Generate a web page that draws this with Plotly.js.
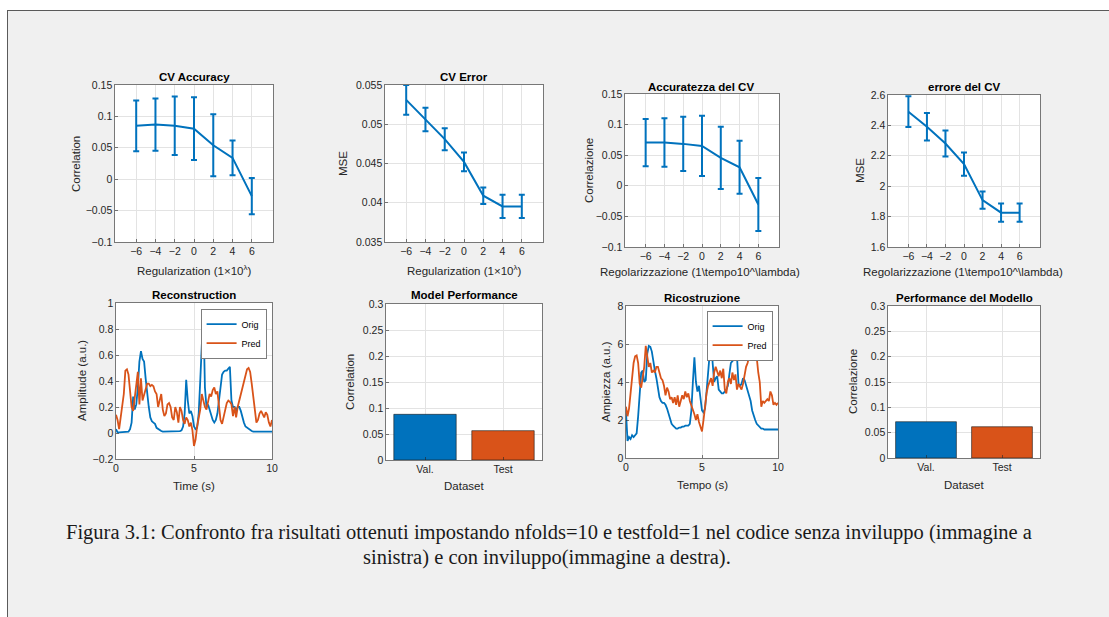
<!DOCTYPE html>
<html>
<head>
<meta charset="utf-8">
<script src="https://cdn.plot.ly/plotly-3.0.1.min.js"></script>
<style>
  html, body { margin:0; padding:0; background:#ffffff; width:1109px; height:617px; overflow:hidden; }
  #frame { position:absolute; left:7px; top:10px; width:1200px; height:700px; background:#f0f0f0;
           border-left:1px solid #5a5a5a; border-top:1px solid #5a5a5a; }
  #chart { position:absolute; left:0; top:0; width:1109px; height:617px; }
</style>
</head>
<body>
<div id="frame"></div>
<div id="chart"></div>
<script>
// ---------------- DATA ----------------
const lambdaExp = [-6, -4, -2, 0, 2, 4, 6];

// Left figure (senza inviluppo)
const cvAccMean = [0.085, 0.087, 0.085, 0.0805, 0.054, 0.034, -0.027];
const cvAccErr  = [0.0405, 0.0416, 0.0465, 0.050, 0.0495, 0.0276, 0.029];
const cvErrMean = [0.0531, 0.0506, 0.0481, 0.0452, 0.0409, 0.03953, 0.03953];
const cvErrErr  = [0.0019, 0.0015, 0.0014, 0.0012, 0.00105, 0.00148, 0.00148];

// Right figure (con inviluppo)
const cvAccMeanEnv = [0.0707, 0.0707, 0.0685, 0.0652, 0.0455, 0.0302, -0.0305];
const cvAccErrEnv  = [0.0386, 0.0397, 0.0443, 0.0493, 0.0509, 0.0433, 0.0432];
const cvErrMeanEnv = [2.490, 2.391, 2.281, 2.145, 1.908, 1.826, 1.826];
const cvErrErrEnv  = [0.101, 0.090, 0.085, 0.076, 0.057, 0.060, 0.060];

// Reconstruction time axis (s)
const timeSec = [
  0.0,0.1,0.2,0.3,0.4,0.5,0.6,0.7,0.8,0.9,
  1.0,1.1,1.2,1.3,1.4,1.5,1.6,1.7,1.8,1.9,
  2.0,2.1,2.2,2.3,2.4,2.5,2.6,2.7,2.8,2.9,
  3.0,3.1,3.2,3.3,3.4,3.5,3.6,3.7,3.8,3.9,
  4.0,4.1,4.2,4.3,4.4,4.5,4.6,4.7,4.8,4.9,
  5.0,5.1,5.2,5.3,5.4,5.5,5.6,5.7,5.8,5.9,
  6.0,6.1,6.2,6.3,6.4,6.5,6.6,6.7,6.8,6.9,
  7.0,7.1,7.2,7.3,7.4,7.5,7.6,7.7,7.8,7.9,
  8.0,8.1,8.2,8.3,8.4,8.5,8.6,8.7,8.8,8.9,
  9.0,9.1,9.2,9.3,9.4,9.5,9.6,9.7,9.8,9.9,
  10.0];

const origLeft = [
  0.03,0.005,0.005,0.005,0.005,0.005,0.005,0.005,0.01,0.03,
  0.08,0.28,0.18,0.22,0.35,0.55,0.63,0.57,0.55,0.42,
  0.30,0.20,0.12,0.09,0.08,0.07,0.04,0.03,0.02,0.015,
  0.01,0.01,0.01,0.01,0.01,0.01,0.01,0.01,0.01,0.01,
  0.01,0.015,0.02,0.05,0.15,0.41,0.25,0.15,0.17,0.13,
  0.05,0.03,0.04,0.15,0.40,0.75,0.95,0.35,0.20,0.22,
  0.18,0.12,0.10,0.08,0.10,0.15,0.25,0.35,0.45,0.47,
  0.48,0.48,0.50,0.51,0.25,0.20,0.20,0.17,0.20,0.20,
  0.17,0.12,0.08,0.05,0.04,0.03,0.02,0.015,0.01,0.01,
  0.01,0.01,0.01,0.01,0.01,0.01,0.01,0.01,0.01,0.01,
  0.01];
const predLeft = [
  0.14,0.10,0.03,0.12,0.18,0.30,0.48,0.49,0.45,0.30,
  0.20,0.17,0.28,0.35,0.47,0.22,0.42,0.25,0.30,0.35,
  0.38,0.38,0.36,0.37,0.36,0.32,0.30,0.20,0.25,0.30,
  0.18,0.13,0.15,0.22,0.23,0.20,0.12,0.10,0.20,0.16,
  0.08,0.20,0.17,0.10,0.07,0.12,0.10,0.05,0.08,0.02,
  -0.10,-0.05,0.05,0.12,0.18,0.30,0.25,0.20,0.18,0.25,
  0.30,0.28,0.33,0.35,0.30,0.32,0.22,0.10,0.07,0.12,
  0.17,0.23,0.25,0.24,0.22,0.13,0.20,0.12,0.20,0.25,
  0.28,0.35,0.40,0.45,0.49,0.50,0.47,0.38,0.28,0.15,
  0.08,0.10,0.15,0.17,0.15,0.12,0.16,0.14,0.08,0.05,
  0.10];

const origRight = [
  2.4,0.9,1.1,1.0,1.2,1.1,1.2,1.3,2.2,3.4,
  4.5,4.6,4.0,4.1,5.5,5.9,5.85,5.6,5.0,4.6,
  4.2,3.6,3.2,3.0,2.9,2.9,2.8,2.6,2.3,2.1,
  1.8,1.7,1.6,1.55,1.55,1.6,1.6,1.65,1.65,1.7,
  1.7,1.7,1.8,2.5,4.0,5.3,4.0,3.5,3.8,3.0,
  2.5,2.4,2.6,3.5,4.5,5.6,6.4,5.0,4.0,4.2,
  4.3,3.6,3.5,3.4,3.4,3.5,3.6,3.8,4.5,5.0,
  5.1,5.2,5.3,5.4,3.9,3.8,3.9,4.2,4.1,3.8,
  3.6,3.3,3.0,2.5,2.2,2.0,1.8,1.7,1.6,1.55,
  1.55,1.5,1.5,1.5,1.5,1.5,1.5,1.5,1.5,1.5,
  1.5];
const predRight = [
  2.7,2.2,2.6,3.3,4.0,5.0,5.35,5.4,5.0,3.9,
  3.7,4.2,4.8,5.9,5.2,4.8,5.0,4.5,4.6,4.5,
  4.8,4.8,4.5,4.2,4.1,3.8,3.3,3.7,3.5,3.1,
  3.2,2.9,3.2,2.8,3.3,2.7,3.0,3.3,3.1,3.5,
  3.2,3.4,3.0,2.8,2.6,2.3,2.0,2.3,1.9,1.6,
  1.4,2.0,2.8,3.4,3.8,4.0,4.2,3.8,4.5,4.8,
  4.6,4.3,4.6,4.2,4.7,3.6,3.4,4.0,4.2,3.9,
  4.5,4.1,4.4,3.6,3.9,3.7,3.6,3.9,4.4,4.8,
  5.0,5.3,5.7,5.65,5.6,5.5,5.3,4.5,4.0,2.7,
  3.0,2.9,3.0,3.1,3.0,3.5,3.3,2.8,2.9,2.8,
  2.9];

const datasetPos    = [1, 2];
const datasetLabels = ['Val.', 'Test'];
const perfLeft  = [0.0878, 0.0564];
const perfRight = [0.0716, 0.0617];

// ---------------- STYLE ----------------
const W = 1109, H = 617;
const BLUE = '#0072BD', ORANGE = '#D95319';
const FONT = 'Liberation Sans, Arial, Helvetica, sans-serif';
const fx = x => x / W;
const fy = y => 1 - y / H;

function axX(L, R, anchor, extra) {
  return Object.assign({
    domain: [fx(L), fx(R)], anchor: anchor,
    showline: true, mirror: true, linecolor: '#262626', linewidth: 0.6,
    showgrid: true, gridcolor: '#e3e3e3', gridwidth: 1, zeroline: false,
    ticks: 'inside', ticklen: 3, tickcolor: '#262626', tickwidth: 0.6,
    tickfont: {family: FONT, size: 10.5, color: '#262626'}, fixedrange: true
  }, extra);
}
function axY(T, B, anchor, extra) {
  return Object.assign({
    domain: [fy(B), fy(T)], anchor: anchor,
    showline: true, mirror: true, linecolor: '#262626', linewidth: 0.6,
    showgrid: true, gridcolor: '#e3e3e3', gridwidth: 1, zeroline: false,
    ticks: 'inside', ticklen: 3, tickcolor: '#262626', tickwidth: 0.6,
    tickfont: {family: FONT, size: 10.5, color: '#262626'}, fixedrange: true
  }, extra);
}
const lamTicks = {range: [-8.2, 8.2], tickvals: lambdaExp};

function errTrace(xa, ya, mean, err) {
  return {
    type: 'scatter', mode: 'lines', x: lambdaExp, y: mean, xaxis: xa, yaxis: ya,
    line: {color: BLUE, width: 2}, showlegend: false, hoverinfo: 'skip',
    error_y: {type: 'data', array: err, visible: true, color: BLUE, thickness: 2, width: 3}
  };
}
function lineTrace(xa, ya, y, color, name, legend) {
  return {
    type: 'scatter', mode: 'lines', x: timeSec, y: y, xaxis: xa, yaxis: ya, name: name,
    line: {color: color, width: 1.8}, legend: legend, showlegend: true, hoverinfo: 'skip'
  };
}
function barTrace(xa, ya, vals) {
  return {
    type: 'bar', x: datasetPos, y: vals, xaxis: xa, yaxis: ya, width: 0.8,
    marker: {color: [BLUE, ORANGE], line: {color: '#1a1a1a', width: 0.6}},
    showlegend: false, hoverinfo: 'skip'
  };
}

const data = [
  errTrace('x', 'y', cvAccMean, cvAccErr),
  errTrace('x2', 'y2', cvErrMean, cvErrErr),
  errTrace('x3', 'y3', cvAccMeanEnv, cvAccErrEnv),
  errTrace('x4', 'y4', cvErrMeanEnv, cvErrErrEnv),
  lineTrace('x5', 'y5', origLeft, BLUE, 'Orig', 'legend'),
  lineTrace('x5', 'y5', predLeft, ORANGE, 'Pred', 'legend'),
  lineTrace('x6', 'y6', origRight, BLUE, 'Orig', 'legend2'),
  lineTrace('x6', 'y6', predRight, ORANGE, 'Pred', 'legend2'),
  barTrace('x7', 'y7', perfLeft),
  barTrace('x8', 'y8', perfRight)
];

function ann(text, x, y, o) {
  return Object.assign({
    text: text, x: fx(x), y: fy(y), xref: 'paper', yref: 'paper',
    xanchor: 'center', yanchor: 'middle', showarrow: false,
    font: {family: FONT, size: 11.5, color: '#262626'}
  }, o || {});
}
const TITLE = {font: {family: FONT, size: 11.5, color: '#000000', weight: 'bold'}};
const YL = {textangle: -90};
const CAP = {font: {family: 'Liberation Serif, Times New Roman, serif', size: 20.5, color: '#1a1a1a'}};

const annotations = [
  ann('<b>CV Accuracy</b>', 194, 77, TITLE),
  ann('<b>CV Error</b>', 464, 77, TITLE),
  ann('<b>Accuratezza del CV</b>', 701, 87, TITLE),
  ann('<b>errore del CV</b>', 964, 87, TITLE),
  ann('<b>Reconstruction</b>', 194, 295, TITLE),
  ann('<b>Model Performance</b>', 464, 295, TITLE),
  ann('<b>Ricostruzione</b>', 702, 298, TITLE),
  ann('<b>Performance del Modello</b>', 964, 298, TITLE),

  ann('Regularization (1×10<sup>λ</sup>)', 194, 270),
  ann('Regularization (1×10<sup>λ</sup>)', 464, 270),
  ann('Regolarizzazione (1\\tempo10^\\lambda)', 700, 272),
  ann('Regolarizzazione (1\\tempo10^\\lambda)', 963, 272),
  ann('Time (s)', 194, 486),
  ann('Dataset', 464, 486),
  ann('Tempo (s)', 702, 485),
  ann('Dataset', 964, 485),

  ann('Correlation', 76, 164, YL),
  ann('MSE', 343, 164, YL),
  ann('Correlazione', 589, 171, YL),
  ann('MSE', 860, 171, YL),
  ann('Amplitude (a.u.)', 82, 381, YL),
  ann('Correlation', 350, 382, YL),
  ann('Ampiezza (a.u.)', 606, 382, YL),
  ann('Correlazione', 853, 382, YL),

  ann('Figura 3.1: Confronto fra risultati ottenuti impostando nfolds=10 e testfold=1 nel codice senza inviluppo (immagine a', 549, 532, CAP),
  ann('sinistra) e con inviluppo(immagine a destra).', 547, 557, CAP)
];

const legendStyle = {
  xanchor: 'right', yanchor: 'top', bgcolor: '#ffffff', bordercolor: '#262626', borderwidth: 0.6,
  font: {family: FONT, size: 9, color: '#000000'}, itemwidth: 30, tracegroupgap: 0,
  traceorder: 'normal'
};

const layout = {
  width: W, height: H, margin: {l: 0, r: 0, t: 0, b: 0},
  paper_bgcolor: 'rgba(0,0,0,0)', plot_bgcolor: '#ffffff',
  showlegend: true,
  legend: Object.assign({x: fx(267), y: fy(309)}, legendStyle),
  legend2: Object.assign({x: fx(773), y: fy(311)}, legendStyle),
  xaxis:  axX(115, 273, 'y', lamTicks),
  yaxis:  axY(85, 242, 'x', {range: [-0.1, 0.15], dtick: 0.05}),
  xaxis2: axX(385, 543, 'y2', lamTicks),
  yaxis2: axY(85, 242, 'x2', {range: [0.035, 0.055], dtick: 0.005}),
  xaxis3: axX(625, 779, 'y3', lamTicks),
  yaxis3: axY(94, 247, 'x3', {range: [-0.1, 0.15], dtick: 0.05}),
  xaxis4: axX(888, 1040, 'y4', lamTicks),
  yaxis4: axY(95, 247, 'x4', {range: [1.6, 2.6], dtick: 0.2}),
  xaxis5: axX(116, 272, 'y5', {range: [0, 10], dtick: 5}),
  yaxis5: axY(303, 459, 'x5', {range: [-0.2, 1], dtick: 0.2}),
  xaxis6: axX(626, 778, 'y6', {range: [0, 10], dtick: 5}),
  yaxis6: axY(306, 458, 'x6', {range: [0, 8], dtick: 2}),
  xaxis7: axX(386, 542, 'y7', {range: [0.5, 2.5], tickvals: datasetPos, ticktext: datasetLabels}),
  yaxis7: axY(304, 460, 'x7', {range: [0, 0.3], dtick: 0.05}),
  xaxis8: axX(888, 1040, 'y8', {range: [0.5, 2.5], tickvals: datasetPos, ticktext: datasetLabels}),
  yaxis8: axY(306, 458, 'x8', {range: [0, 0.3], dtick: 0.05}),
  annotations: annotations
};

Plotly.newPlot('chart', data, layout, {staticPlot: true, displayModeBar: false});
</script>
</body>
</html>
